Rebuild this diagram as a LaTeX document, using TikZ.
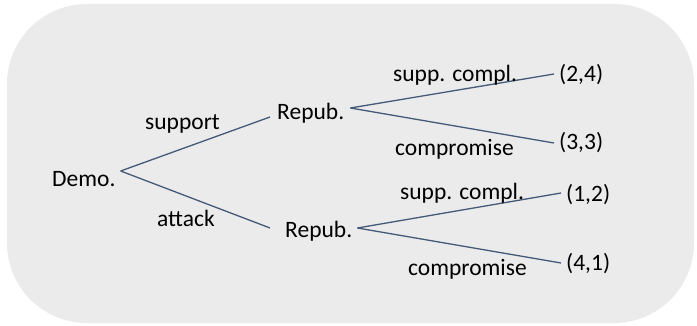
\documentclass[tikz,border=0pt]{standalone}
\usepackage{fontspec}
\setmainfont{Carlito}
\usetikzlibrary{calc}
\definecolor{panelgray}{RGB}{235,235,235}
\definecolor{edgeblue}{RGB}{68,90,120}
\begin{document}
\begin{tikzpicture}[x=1pt,y=-1pt,
  txt/.style={inner sep=0pt,anchor=base west,font=\fontsize{23.5}{26}\selectfont,text=black},
  branch/.style={draw=edgeblue,line width=1.3pt}]
  \useasboundingbox (0,0) rectangle (697,326);
  % rounded panel behind the tree
  \fill[panelgray,rounded corners=80pt] (7,4) rectangle (694,323);

  % players and payoffs
  \node[txt] (demo) at (52,187) {Demo.};
  \node[txt] (rep1) at (277,120) {Repub.};
  \node[txt] (rep2) at (285,237) {Repub.};
  \node[txt] (p24) at (559,82) {(2,4)};
  \node[txt] (p33) at (559,150) {(3,3)};
  \node[txt] (p12) at (566,202) {(1,2)};
  \node[txt] (p41) at (566,270) {(4,1)};

  % moves
  \draw[branch] ($(demo.base east)+(5,-16)$) -- ($(rep1.base west)+(-7,-3)$);
  \draw[branch] ($(demo.base east)+(5,-16)$) -- ($(rep2.base west)+(-15,-9)$);
  \draw[branch] ($(rep1.base east)+(6,-12)$) -- ($(p24.base west)+(-5,-8)$);
  \draw[branch] ($(rep1.base east)+(6,-12)$) -- ($(p33.base west)+(-5,-7)$);
  \draw[branch] ($(rep2.base east)+(5,-9)$) -- ($(p12.base west)+(-5,-9)$);
  \draw[branch] ($(rep2.base east)+(5,-9)$) -- ($(p41.base west)+(-5,-7)$);

  % move labels
  \node[txt] (lsup) at (145,130) {support};
  \node[txt] (latt) at (157,227) {attack};
  \node[txt] (lsc1) at (393,82) {supp. compl.};
  \node[txt] (lco1) at (395,156) {compromise};
  \node[txt] (lsc2) at (400,200) {supp. compl.};
  \node[txt] (lco2) at (408,276) {compromise};
\end{tikzpicture}
\end{document}
